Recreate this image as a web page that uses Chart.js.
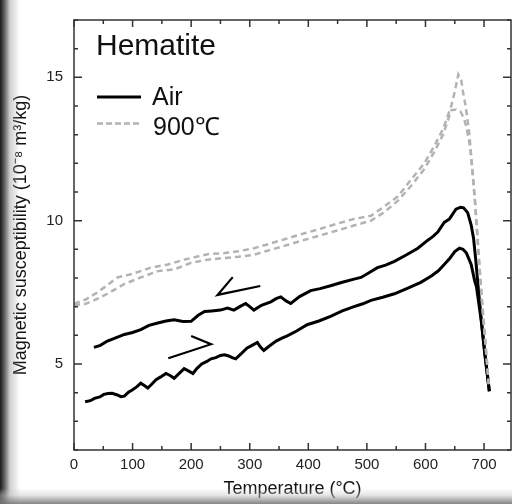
<!DOCTYPE html>
<html>
<head>
<meta charset="utf-8">
<script src="https://cdn.jsdelivr.net/npm/chart.js@4.4.1/dist/chart.umd.min.js"></script>
<style>
  body { margin: 0; background: #fff; }
  #wrap { position: relative; width: 512px; height: 504px; overflow: hidden; }
  .shade-left {
    position: absolute; left: 0; top: 0; width: 20px; height: 504px; pointer-events: none;
    background: linear-gradient(to right, rgba(25,25,25,1) 0px, rgba(70,70,70,0.9) 4px, rgba(160,160,160,0.5) 10px, rgba(255,255,255,0) 20px);
  }
  .shade-bottom {
    position: absolute; left: 0; bottom: 0; width: 512px; height: 16px; pointer-events: none;
    background: linear-gradient(to bottom, rgba(255,255,255,0) 0px, rgba(200,200,200,0.45) 7px, rgba(120,120,120,0.9) 16px);
  }
</style>
</head>
<body>
<div id="wrap">
  <canvas id="myChart" width="512" height="504"></canvas>
  <div class="shade-left"></div>
  <div class="shade-bottom"></div>
</div>
<script>
// tick positions
const xTicks = [0, 50, 100, 150, 200, 250, 300, 350, 400, 450, 500, 550, 600, 650, 700]
const yTicks = [2, 3, 4, 5, 6, 7, 8, 9, 10, 11, 12, 13, 14, 15, 16, 17]

// Air, heating (lower solid curve)
const airHeatT = [19, 28, 35, 44, 51, 58, 65, 74, 80, 86, 93, 100, 107, 114, 120, 126, 133, 140, 148, 157,
    164, 171, 180, 188, 196, 203, 210, 218, 226, 234, 242, 250, 257, 264, 270, 276, 285, 295, 304, 313,
    318, 324, 333, 345, 355, 364, 380, 398, 418, 438, 458, 478, 493, 507, 527, 547, 570, 592, 610, 622,
    632, 642, 650, 658, 664, 670, 678, 684, 687, 695, 701, 709]
const airHeatChi = [3.68, 3.72, 3.8, 3.85, 3.94, 3.97, 3.98, 3.92, 3.86, 3.88, 4.02, 4.1, 4.2, 4.33, 4.25, 4.16, 4.3, 4.45, 4.55, 4.67,
    4.6, 4.5, 4.68, 4.84, 4.75, 4.67, 4.85, 5.0, 5.08, 5.18, 5.22, 5.3, 5.32, 5.28, 5.22, 5.18, 5.35, 5.55, 5.65, 5.75,
    5.6, 5.47, 5.62, 5.8, 5.9, 5.98, 6.15, 6.37, 6.5, 6.66, 6.85, 7.0, 7.1, 7.22, 7.33, 7.45, 7.65, 7.85, 8.07, 8.25,
    8.47, 8.7, 8.92, 9.04, 9.0, 8.87, 8.47, 7.9, 7.7, 6.54, 5.4, 4.05]

// Air, cooling (upper solid curve)
const airCoolT = [34, 45, 57, 70, 86, 100, 114, 128, 143, 157, 171, 186, 200, 212, 223, 235, 250, 262, 273, 283,
    293, 300, 307, 320, 336, 345, 353, 362, 370, 385, 404, 420, 438, 458, 478, 490, 505, 518, 532, 547,
    567, 587, 604, 613, 621, 632, 641, 652, 660, 665, 672, 678, 682, 686, 689, 695, 701, 709]
const airCoolChi = [5.58, 5.65, 5.8, 5.9, 6.03, 6.1, 6.2, 6.35, 6.43, 6.5, 6.54, 6.48, 6.49, 6.7, 6.83, 6.85, 6.88, 6.95, 6.88, 7.0,
    7.11, 7.0, 6.88, 7.05, 7.17, 7.28, 7.34, 7.2, 7.11, 7.35, 7.56, 7.63, 7.73, 7.85, 7.96, 8.02, 8.2, 8.36, 8.45, 8.58,
    8.8, 9.04, 9.32, 9.45, 9.6, 9.94, 10.06, 10.4, 10.47, 10.45, 10.28, 9.85, 9.4, 8.6, 7.9, 6.6, 5.45, 4.05]

// 900°C, upper dashed curve
const c900AT = [0, 20, 40, 57, 74, 97, 115, 131, 160, 188, 211, 228, 257, 280, 307, 335, 364, 392, 421, 450,
    478, 507, 530, 553, 575, 598, 615, 630, 644, 650, 656, 661, 664, 669, 675, 681, 685, 689, 693, 697, 701, 705, 708]
const c900AChi = [7.1, 7.25, 7.5, 7.75, 8.02, 8.13, 8.25, 8.36, 8.47, 8.64, 8.75, 8.83, 8.87, 8.93, 9.04, 9.2, 9.38, 9.55, 9.72, 9.9,
    10.06, 10.17, 10.5, 10.85, 11.42, 12.0, 12.6, 13.2, 14.0, 14.5, 15.1, 14.9, 14.5, 13.95, 13.0, 11.5, 10.5, 9.3, 8.1, 7.0, 6.0, 5.0, 4.3]

// 900°C, lower dashed curve
const c900BT = [0, 20, 34, 57, 86, 114, 143, 171, 200, 228, 257, 280, 307, 335, 364, 392, 421, 450, 478, 507,
    530, 553, 575, 598, 615, 630, 644, 652, 660, 666, 670, 676, 681, 685, 689, 693, 697, 701, 705, 708]
const c900BChi = [7.05, 7.1, 7.22, 7.45, 7.79, 8.02, 8.24, 8.3, 8.53, 8.64, 8.7, 8.74, 8.81, 8.98, 9.15, 9.32, 9.49, 9.66, 9.83, 10.0,
    10.3, 10.7, 11.2, 11.8, 12.4, 13.0, 13.85, 13.88, 13.8, 13.55, 13.25, 12.6, 11.6, 10.6, 9.4, 8.2, 7.1, 6.1, 5.1, 4.3]

// direction arrows
const arrowCoolT = [271, 245, 318]
const arrowCoolChi = [8.03, 7.41, 7.72]
const arrowHeatT = [200, 234, 161]
const arrowHeatChi = [5.98, 5.69, 5.2]

const zip = (xs, ys) => xs.map((x, i) => ({ x: x, y: ys[i] }))
const FONT = '"Liberation Sans", Arial, Helvetica, sans-serif'

const black = { borderColor: '#000', borderWidth: 3, showLine: true, pointRadius: 0, tension: 0, fill: false }
const gray = { borderColor: '#b3b3b3', borderWidth: 2.5, borderDash: [6, 4], showLine: true, pointRadius: 0, tension: 0, fill: false }
const arrow = { borderColor: '#000', borderWidth: 2.2, showLine: true, pointRadius: 0, tension: 0, fill: false }

const framePlugin = {
    id: 'frame',
    afterDraw(chart) {
        const { ctx, chartArea: a, scales: { x, y } } = chart
        ctx.save()
        ctx.strokeStyle = '#333'
        ctx.lineWidth = 1.5
        ctx.strokeRect(a.left, a.top, a.right - a.left, a.bottom - a.top)
        ctx.beginPath()
        x.ticks.forEach(t => {
            const px = x.getPixelForValue(t.value)
            const len = t.value % 100 === 0 ? 7 : 4
            ctx.moveTo(px, a.bottom); ctx.lineTo(px, a.bottom - len)
            ctx.moveTo(px, a.top); ctx.lineTo(px, a.top + len)
        })
        y.ticks.forEach(t => {
            const py = y.getPixelForValue(t.value)
            const len = t.value % 5 === 0 ? 8 : 4
            ctx.moveTo(a.left, py); ctx.lineTo(a.left + len, py)
            ctx.moveTo(a.right, py); ctx.lineTo(a.right - len, py)
        })
        ctx.stroke()

        // title and legend inside the plot
        ctx.fillStyle = '#111'
        ctx.textBaseline = 'alphabetic'
        ctx.font = '30px ' + FONT
        ctx.fillText('Hematite', 96, 55)
        ctx.font = '25px ' + FONT
        ctx.fillText('Air', 152, 105)
        ctx.fillText('900℃', 153, 135)
        ctx.setLineDash([])
        ctx.strokeStyle = '#000'
        ctx.lineWidth = 3
        ctx.beginPath(); ctx.moveTo(97, 97); ctx.lineTo(141, 97); ctx.stroke()
        ctx.setLineDash([6, 3])
        ctx.strokeStyle = '#b3b3b3'
        ctx.lineWidth = 2.5
        ctx.beginPath(); ctx.moveTo(97, 123.5); ctx.lineTo(141, 123.5); ctx.stroke()
        ctx.restore()
    }
}

new Chart(document.getElementById('myChart').getContext('2d'), {
    type: 'scatter',
    data: {
        datasets: [
            { label: '900℃', data: zip(c900AT, c900AChi), ...gray },
            { label: '900℃', data: zip(c900BT, c900BChi), ...gray },
            { label: 'Air', data: zip(airHeatT, airHeatChi), ...black },
            { label: 'Air', data: zip(airCoolT, airCoolChi), ...black },
            { label: 'cooling', data: zip(arrowCoolT, arrowCoolChi), ...arrow },
            { label: 'heating', data: zip(arrowHeatT, arrowHeatChi), ...arrow }
        ]
    },
    options: {
        responsive: false,
        animation: false,
        devicePixelRatio: 1,
        layout: { padding: { top: 10, right: 1, left: 0, bottom: 0 } },
        plugins: { legend: { display: false }, tooltip: { enabled: false } },
        scales: {
            x: {
                type: 'linear',
                min: 0,
                max: 746,
                afterBuildTicks: s => { s.ticks = xTicks.map(v => ({ value: v })) },
                afterFit: s => { s.height = 54 },
                grid: { display: false, drawTicks: false },
                border: { display: false },
                ticks: {
                    padding: 6,
                    color: '#222',
                    font: { size: 15, family: FONT },
                    maxRotation: 0,
                    autoSkip: false,
                    callback: v => (v % 100 === 0 ? String(v) : '')
                },
                title: {
                    display: true,
                    text: 'Temperature (°C)',
                    color: '#111',
                    font: { size: 18, family: FONT },
                    padding: { top: 0, bottom: 4 }
                }
            },
            y: {
                type: 'linear',
                min: 2,
                max: 17,
                afterBuildTicks: s => { s.ticks = yTicks.map(v => ({ value: v })) },
                afterFit: s => { s.width = 74 },
                grid: { display: false, drawTicks: false },
                border: { display: false },
                ticks: {
                    padding: 11,
                    color: '#222',
                    font: { size: 15, family: FONT },
                    autoSkip: false,
                    callback: v => (v % 5 === 0 ? String(v) : '')
                },
                title: {
                    display: true,
                    text: 'Magnetic susceptibility (10⁻⁸ m³/kg)',
                    color: '#111',
                    font: { size: 18, family: FONT },
                    padding: { top: 10, bottom: 0 }
                }
            }
        }
    },
    plugins: [framePlugin]
})
</script>
</body>
</html>
